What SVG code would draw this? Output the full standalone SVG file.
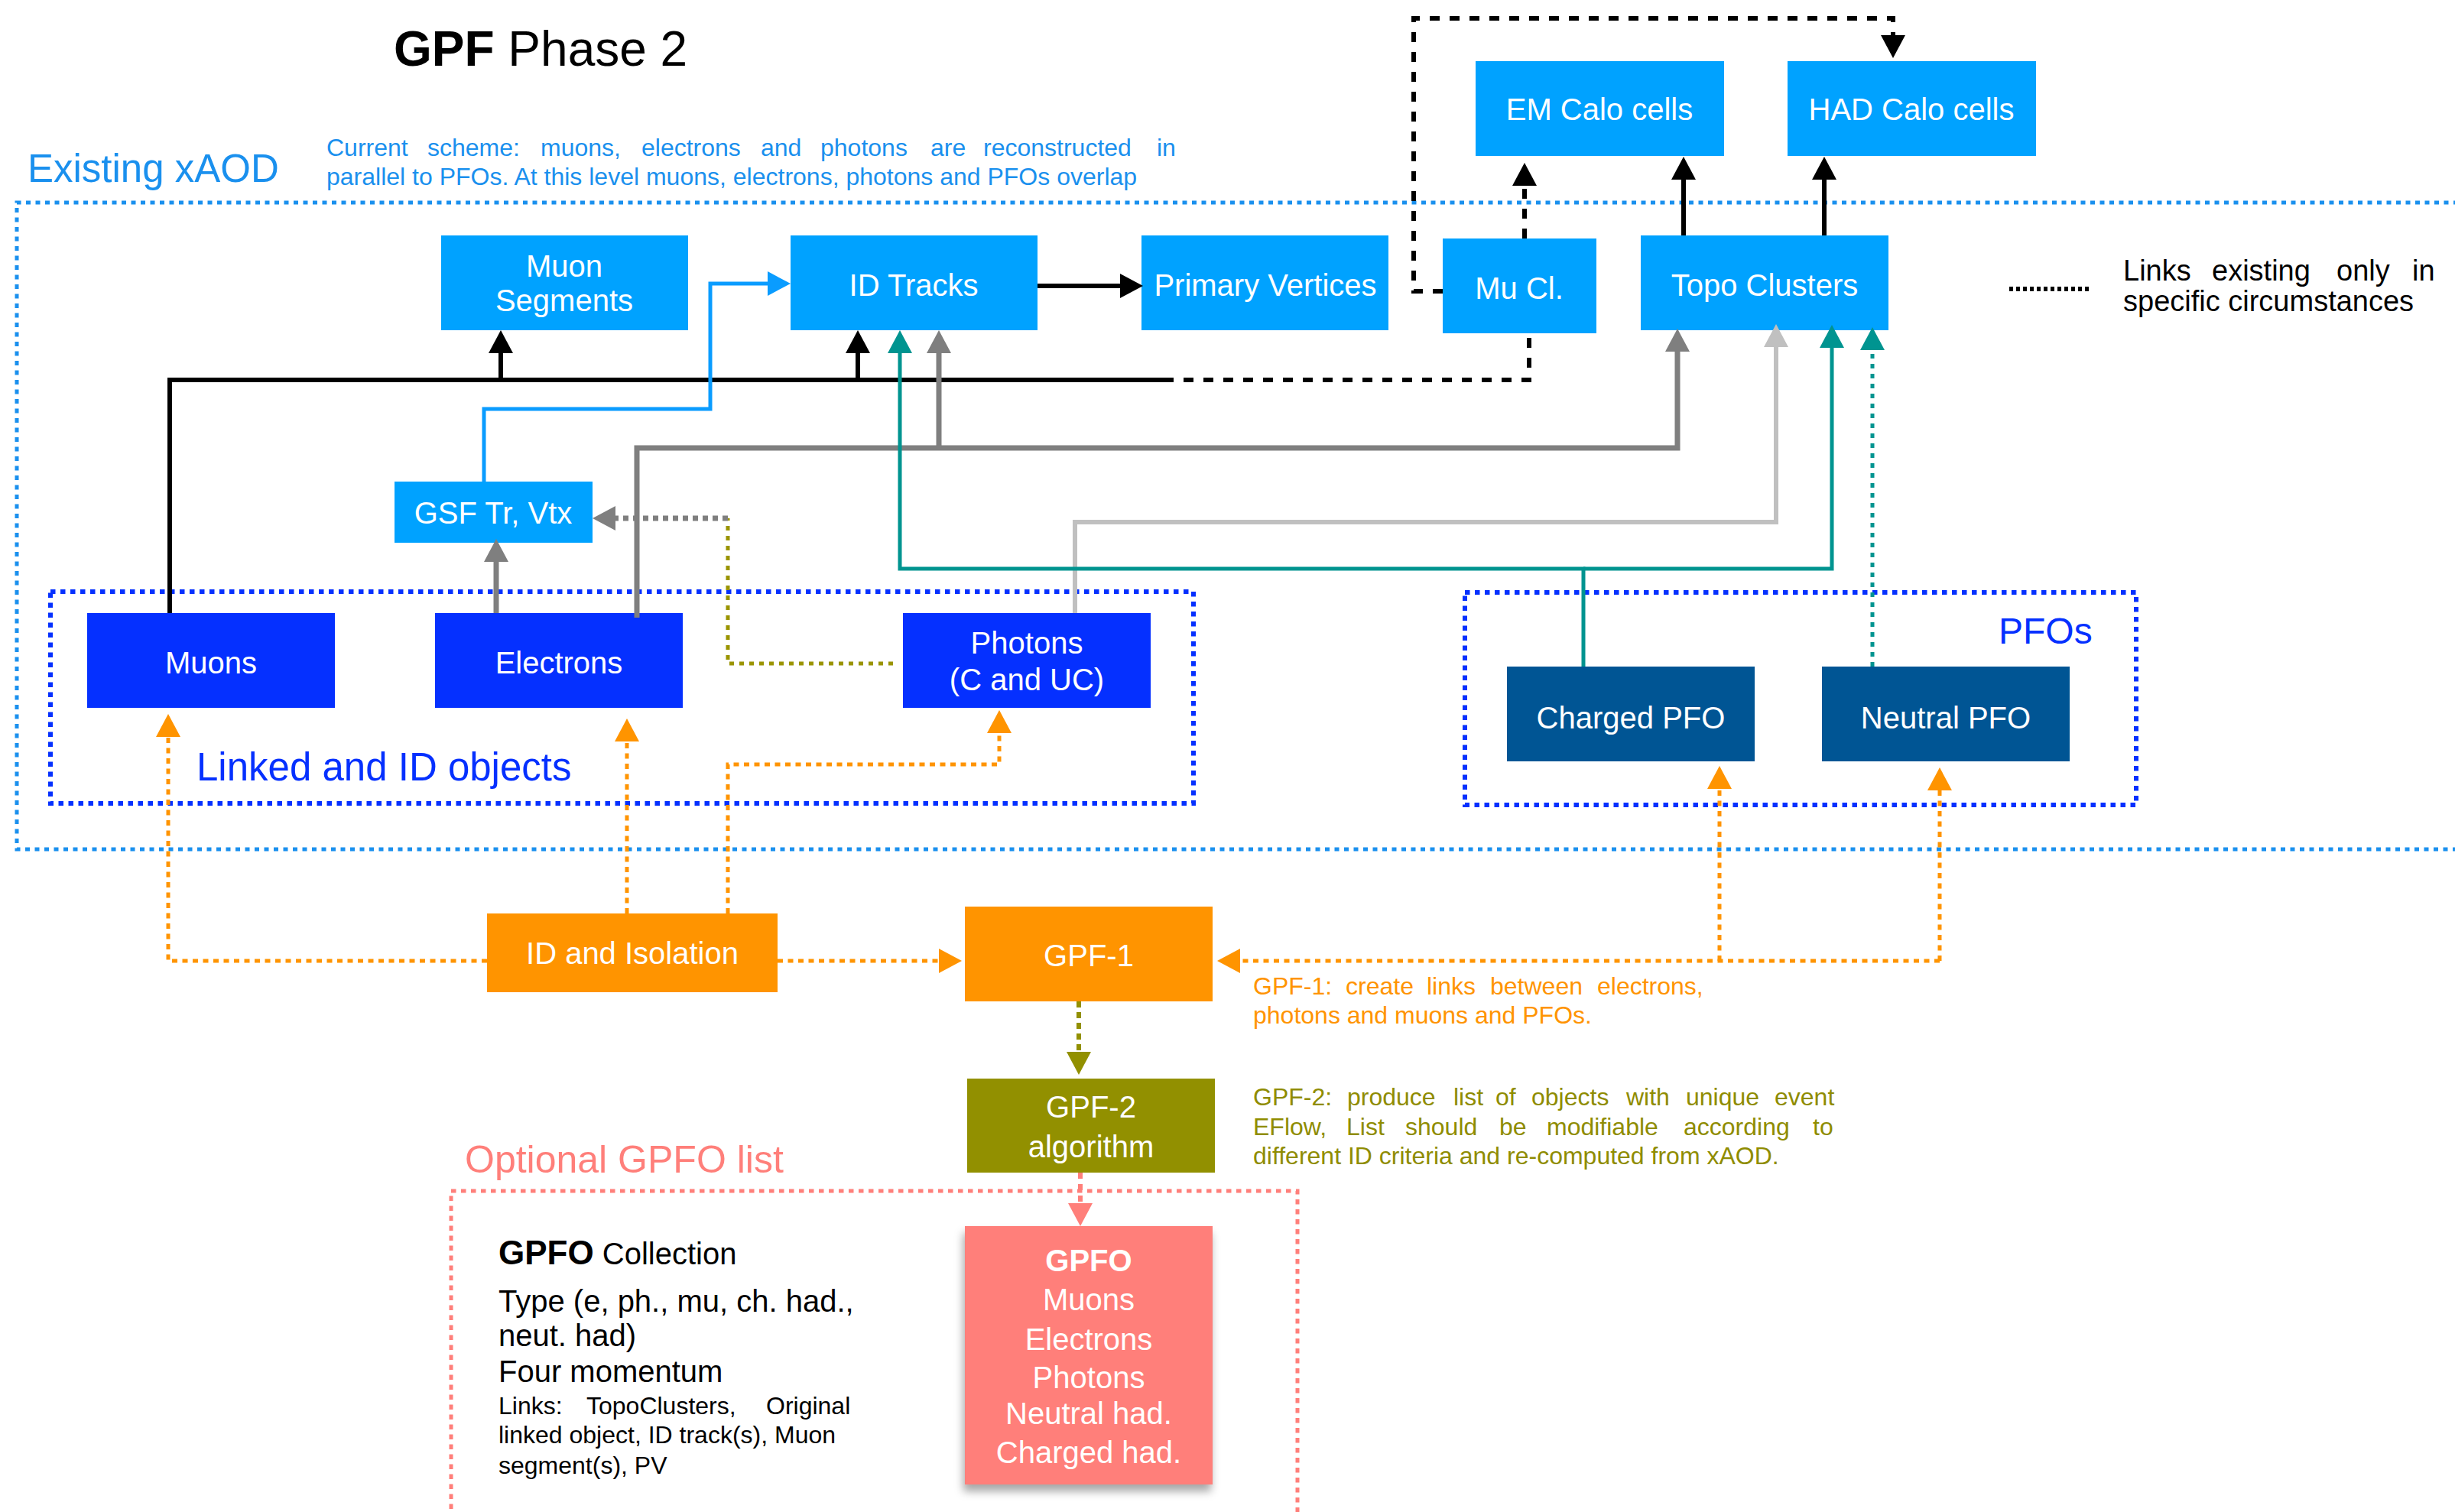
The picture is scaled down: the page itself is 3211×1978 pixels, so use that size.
<svg xmlns="http://www.w3.org/2000/svg" width="3211" height="1978" viewBox="0 0 3211 1978">
  <style>
    text { font-family: "Liberation Sans", Arial, sans-serif; }
    .box-sky { fill: #00a2ff; }
    .box-blue { fill: #0530ff; }
    .box-pfo { fill: #005594; }
    .box-orange { fill: #ff9400; }
    .box-olive { fill: #929000; }
    .box-salmon { fill: #ff7f7a; }
    .lbl { fill: #ffffff; font-size: 40px; text-anchor: middle; }
    .frame-xaod { fill: none; stroke: #1a90ee; stroke-width: 5; stroke-dasharray: 6 6.5; }
    .frame-group { fill: none; stroke: #0530ff; stroke-width: 6; stroke-dasharray: 6.5 6.5; }
    .frame-opt { fill: none; stroke: #ff7f7a; stroke-width: 5; stroke-dasharray: 6.5 6.5; }
    .c { fill: none; }
    .k { stroke: #000; stroke-width: 6; }
    .k-dot { stroke: #000; stroke-width: 6; stroke-dasharray: 13 13; }
    .sky { stroke: #0a9cff; stroke-width: 5; }
    .gray { stroke: #7f7f7f; stroke-width: 7; }
    .lgray { stroke: #c0c0c0; stroke-width: 6; }
    .teal { stroke: #009490; stroke-width: 5; }
    .teal-dot { stroke: #009490; stroke-width: 5; stroke-dasharray: 6 7; }
    .gray-dot { stroke: #7f7f7f; stroke-width: 7; stroke-dasharray: 7 6; }
    .olive-dot { stroke: #9a9400; stroke-width: 5; stroke-dasharray: 6 7; }
    .olive-dash { stroke: #929000; stroke-width: 6; stroke-dasharray: 8 6; }
    .orange-dot { stroke: #ff9400; stroke-width: 5; stroke-dasharray: 7 6.5; }
    .salmon-dash { stroke: #ff7f7a; stroke-width: 6; stroke-dasharray: 8 7; }
  </style>
  <defs>
    <marker id="ah-black" viewBox="0 0 30 32" refX="1" refY="16" markerWidth="30" markerHeight="32" markerUnits="userSpaceOnUse" orient="auto"><path d="M0,0 L30,16 L0,32 z" fill="#000"/></marker>
    <marker id="ah-sky" viewBox="0 0 30 32" refX="1" refY="16" markerWidth="30" markerHeight="32" markerUnits="userSpaceOnUse" orient="auto"><path d="M0,0 L30,16 L0,32 z" fill="#0a9cff"/></marker>
    <marker id="ah-gray" viewBox="0 0 30 32" refX="1" refY="16" markerWidth="30" markerHeight="32" markerUnits="userSpaceOnUse" orient="auto"><path d="M0,0 L30,16 L0,32 z" fill="#7f7f7f"/></marker>
    <marker id="ah-lgray" viewBox="0 0 30 32" refX="1" refY="16" markerWidth="30" markerHeight="32" markerUnits="userSpaceOnUse" orient="auto"><path d="M0,0 L30,16 L0,32 z" fill="#c0c0c0"/></marker>
    <marker id="ah-teal" viewBox="0 0 30 32" refX="1" refY="16" markerWidth="30" markerHeight="32" markerUnits="userSpaceOnUse" orient="auto"><path d="M0,0 L30,16 L0,32 z" fill="#009490"/></marker>
    <marker id="ah-orange" viewBox="0 0 30 32" refX="1" refY="16" markerWidth="30" markerHeight="32" markerUnits="userSpaceOnUse" orient="auto"><path d="M0,0 L30,16 L0,32 z" fill="#ff9400"/></marker>
    <marker id="ah-olive" viewBox="0 0 30 32" refX="1" refY="16" markerWidth="30" markerHeight="32" markerUnits="userSpaceOnUse" orient="auto"><path d="M0,0 L30,16 L0,32 z" fill="#929000"/></marker>
    <marker id="ah-salmon" viewBox="0 0 30 32" refX="1" refY="16" markerWidth="30" markerHeight="32" markerUnits="userSpaceOnUse" orient="auto"><path d="M0,0 L30,16 L0,32 z" fill="#ff7f7a"/></marker>
    <filter id="shadow" x="-20%" y="-20%" width="140%" height="140%">
      <feDropShadow dx="-2" dy="9" stdDeviation="6" flood-color="#000" flood-opacity="0.35"/>
    </filter>
  </defs>

  <rect width="3211" height="1978" fill="#ffffff"/>

  <!-- title and notes -->
  <text x="515" y="86" font-size="64" fill="#000"><tspan font-weight="bold">GPF</tspan> Phase 2</text>
  <text x="36" y="238" font-size="51" fill="#1a90ee">Existing xAOD</text>
  <g font-size="32" fill="#1a90ee">
    <text y="204"><tspan x="427">Current</tspan><tspan x="559">scheme:</tspan><tspan x="707">muons,</tspan><tspan x="839">electrons</tspan><tspan x="995">and</tspan><tspan x="1073">photons</tspan><tspan x="1217">are</tspan><tspan x="1286">reconstructed</tspan><tspan x="1513">in</tspan></text>
    <text x="427" y="242">parallel to PFOs. At this level muons, electrons, photons and PFOs overlap</text>
  </g>
  <g id="legend">
    <path d="M2628,378 H2736" fill="none" stroke="#000" stroke-width="6" stroke-dasharray="5 4"/>
    <g font-size="38" fill="#000">
      <text y="367"><tspan x="2777">Links</tspan><tspan x="2893">existing</tspan><tspan x="3056">only</tspan><tspan x="3155">in</tspan></text>
      <text x="2777" y="407">specific circumstances</text>
    </g>
  </g>
  <g font-size="32" fill="#ff9400">
    <text y="1301"><tspan x="1639">GPF-1:</tspan><tspan x="1760">create</tspan><tspan x="1866">links</tspan><tspan x="1949">between</tspan><tspan x="2089">electrons,</tspan></text>
    <text x="1639" y="1339">photons and muons and PFOs.</text>
  </g>
  <g font-size="32" fill="#8f8c00">
    <text y="1446"><tspan x="1639">GPF-2:</tspan><tspan x="1762">produce</tspan><tspan x="1901">list</tspan><tspan x="1956">of</tspan><tspan x="2003">objects</tspan><tspan x="2127">with</tspan><tspan x="2205">unique</tspan><tspan x="2321">event</tspan></text>
    <text y="1485"><tspan x="1639">EFlow,</tspan><tspan x="1761">List</tspan><tspan x="1838">should</tspan><tspan x="1961">be</tspan><tspan x="2023">modifiable</tspan><tspan x="2202">according</tspan><tspan x="2371">to</tspan></text>
    <text x="1639" y="1523">different ID criteria and re-computed from xAOD.</text>
  </g>

  <!-- grouping frames -->
  <g id="frames">
    <path class="frame-xaod" d="M3215,265 H22 V1111 H3215"/>
    <g id="linked-objects">
      <rect class="frame-group" x="66" y="774" width="1495" height="277"/>
      <text x="257" y="1021" font-size="51" fill="#0530ff">Linked and ID objects</text>
    </g>
    <g id="pfos">
      <rect class="frame-group" x="1916" y="775" width="878" height="278"/>
      <text x="2614" y="842" font-size="48" fill="#0530ff">PFOs</text>
    </g>
    <g id="optional-gpfo">
      <rect class="frame-opt" x="590" y="1558" width="1107" height="440"/>
      <text x="608" y="1534" font-size="50" fill="#ff7f7a">Optional GPFO list</text>
      <g font-size="40" fill="#000">
        <text x="652" y="1654"><tspan font-weight="bold" font-size="44">GPFO</tspan> Collection</text>
        <text x="652" y="1716">Type (e, ph., mu, ch. had.,</text>
        <text x="652" y="1761">neut. had)</text>
        <text x="652" y="1808">Four momentum</text>
      </g>
      <g font-size="32" fill="#000">
        <text y="1850"><tspan x="652">Links:</tspan><tspan x="767">TopoClusters,</tspan><tspan x="1002">Original</tspan></text>
        <text x="652" y="1888">linked object, ID track(s), Muon</text>
        <text x="652" y="1928">segment(s), PV</text>
      </g>
    </g>
  </g>

  <!-- nodes -->
  <g id="muon-segments"><rect class="box-sky" x="577" y="308" width="323" height="124"/><text class="lbl" x="738" y="362">Muon</text><text class="lbl" x="738" y="407">Segments</text></g>
  <g id="id-tracks"><rect class="box-sky" x="1034" y="308" width="323" height="124"/><text class="lbl" x="1195" y="387">ID Tracks</text></g>
  <g id="primary-vertices"><rect class="box-sky" x="1493" y="308" width="323" height="124"/><text class="lbl" x="1655" y="387">Primary Vertices</text></g>
  <g id="mu-cl"><rect class="box-sky" x="1887" y="312" width="201" height="124"/><text class="lbl" x="1987" y="391">Mu Cl.</text></g>
  <g id="topo-clusters"><rect class="box-sky" x="2146" y="308" width="324" height="124"/><text class="lbl" x="2308" y="387">Topo Clusters</text></g>
  <g id="em-calo"><rect class="box-sky" x="1930" y="80" width="325" height="124"/><text class="lbl" x="2092" y="157">EM Calo cells</text></g>
  <g id="had-calo"><rect class="box-sky" x="2338" y="80" width="325" height="124"/><text class="lbl" x="2500" y="157">HAD Calo cells</text></g>
  <g id="gsf"><rect class="box-sky" x="516" y="630" width="259" height="80"/><text class="lbl" x="645" y="685" font-size="38">GSF Tr, Vtx</text></g>
  <g id="muons"><rect class="box-blue" x="114" y="802" width="324" height="124"/><text class="lbl" x="276" y="881">Muons</text></g>
  <g id="electrons"><rect class="box-blue" x="569" y="802" width="324" height="124"/><text class="lbl" x="731" y="881">Electrons</text></g>
  <g id="photons"><rect class="box-blue" x="1181" y="802" width="324" height="124"/><text class="lbl" x="1343" y="855">Photons</text><text class="lbl" x="1343" y="903">(C and UC)</text></g>
  <g id="charged-pfo"><rect class="box-pfo" x="1971" y="872" width="324" height="124"/><text class="lbl" x="2133" y="953">Charged PFO</text></g>
  <g id="neutral-pfo"><rect class="box-pfo" x="2383" y="872" width="324" height="124"/><text class="lbl" x="2545" y="953">Neutral PFO</text></g>
  <g id="id-isolation"><rect class="box-orange" x="637" y="1195" width="380" height="103"/><text class="lbl" x="827" y="1261">ID and Isolation</text></g>
  <g id="gpf1"><rect class="box-orange" x="1262" y="1186" width="324" height="124"/><text class="lbl" x="1424" y="1264">GPF-1</text></g>
  <g id="gpf2"><rect class="box-olive" x="1265" y="1411" width="324" height="123"/><text class="lbl" x="1427" y="1462">GPF-2</text><text class="lbl" x="1427" y="1514">algorithm</text></g>
  <g id="gpfo"><rect class="box-salmon" x="1262" y="1604" width="324" height="338" filter="url(#shadow)"/>
    <text class="lbl" x="1424" y="1663" font-size="45" font-weight="bold">GPFO</text>
    <text class="lbl" x="1424" y="1714">Muons</text>
    <text class="lbl" x="1424" y="1766">Electrons</text>
    <text class="lbl" x="1424" y="1816">Photons</text>
    <text class="lbl" x="1424" y="1863">Neutral had.</text>
    <text class="lbl" x="1424" y="1914">Charged had.</text>
  </g>

  <!-- connectors -->
  <g id="connectors" class="c">
    <!-- black links -->
    <path class="c k" d="M222,802 V497 H1535"/>
    <path class="c k-dot" d="M1548,497 H2000 V436"/>
    <path class="c k" d="M655,497 V461" marker-end="url(#ah-black)"/>
    <path class="c k" d="M1122,497 V461" marker-end="url(#ah-black)"/>
    <path class="c k" d="M1357,374 H1466" marker-end="url(#ah-black)"/>
    <path class="c k" d="M2202,308 V234" marker-end="url(#ah-black)"/>
    <path class="c k" d="M2386,308 V234" marker-end="url(#ah-black)"/>
    <path class="c k-dot" d="M1994,312 V242" marker-end="url(#ah-black)"/>
    <path class="c k-dot" d="M1887,381 H1849 V24 H2476 V47" marker-end="url(#ah-black)"/>
    <!-- tracking links -->
    <path class="c sky" d="M633,630 V535 H929 V371 H1005" marker-end="url(#ah-sky)"/>
    <path class="c gray" d="M649,802 V734" marker-end="url(#ah-gray)"/>
    <path class="c gray" d="M833,808 V586 H2194 V459" marker-end="url(#ah-gray)"/>
    <path class="c gray" d="M1228,586 V461" marker-end="url(#ah-gray)"/>
    <path class="c lgray" d="M1406,802 V683 H2323 V453" marker-end="url(#ah-lgray)"/>
    <path class="c teal" d="M2071,872 V744 H1177 V461" marker-end="url(#ah-teal)"/>
    <path class="c teal" d="M2071,744 H2396 V454" marker-end="url(#ah-teal)"/>
    <path class="c teal-dot" d="M2449,872 V457" marker-end="url(#ah-teal)"/>
    <path class="c olive-dot" d="M1168,868 H952 V678"/>
    <path class="c gray-dot" d="M952,678 H804" marker-end="url(#ah-gray)"/>
    <!-- GPF links -->
    <path class="c orange-dot" d="M637,1257 H220 V963" marker-end="url(#ah-orange)"/>
    <path class="c orange-dot" d="M820,1195 V969" marker-end="url(#ah-orange)"/>
    <path class="c orange-dot" d="M952,1195 V1000 H1307 V958" marker-end="url(#ah-orange)"/>
    <path class="c orange-dot" d="M1017,1257 H1229" marker-end="url(#ah-orange)"/>
    <path class="c orange-dot" d="M2537,1257 H1621" marker-end="url(#ah-orange)"/>
    <path class="c orange-dot" d="M2249,1257 V1031" marker-end="url(#ah-orange)"/>
    <path class="c orange-dot" d="M2537,1257 V1033" marker-end="url(#ah-orange)"/>
    <path class="c olive-dash" d="M1411,1310 V1377" marker-end="url(#ah-olive)"/>
    <path class="c salmon-dash" d="M1413,1534 V1575" marker-end="url(#ah-salmon)"/>
  </g>
</svg>
